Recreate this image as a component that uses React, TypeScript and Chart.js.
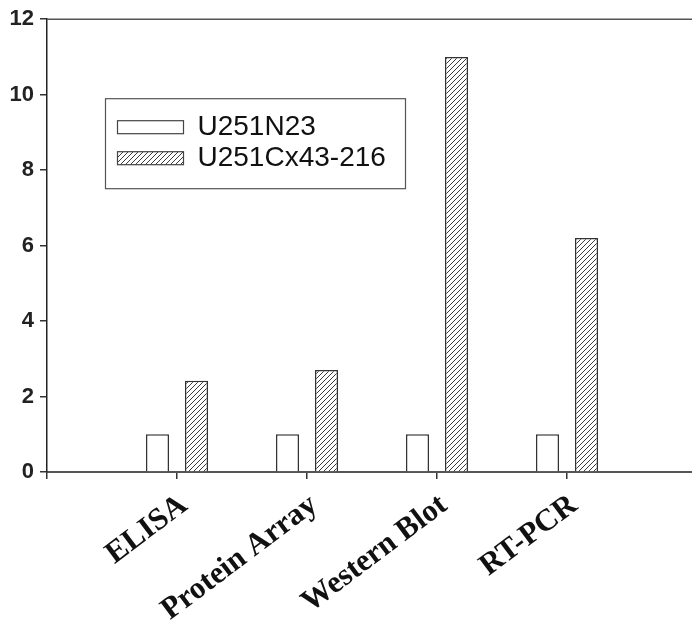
import React, { useEffect, useRef } from 'react';
import { Chart, registerables } from 'chart.js';

Chart.register(...registerables);

const categories = ['ELISA', 'Protein Array', 'Western Blot', 'RT-PCR'];
const seriesNames = ['U251N23', 'U251Cx43-216'];
const u251n23Values = [1, 1, 1, 1];
const u251cx43Values = [2.42, 2.7, 11.0, 6.2];
const yMin = 0;
const yMax = 12;
const yStep = 2;

function makeHatch(): CanvasPattern | string {
  const size = 5;
  const c = document.createElement('canvas');
  c.width = size;
  c.height = size;
  const g = c.getContext('2d');
  if (!g) return '#fff';
  g.fillStyle = '#ffffff';
  g.fillRect(0, 0, size, size);
  g.strokeStyle = '#3a3a3a';
  g.lineWidth = 1;
  g.beginPath();
  g.moveTo(-1, size + 1);
  g.lineTo(size + 1, -1);
  g.moveTo(-1, 1);
  g.lineTo(1, -1);
  g.moveTo(size - 1, size + 1);
  g.lineTo(size + 1, size - 1);
  g.stroke();
  const p = g.createPattern(c, 'repeat');
  return p || '#fff';
}

export default function App() {
  const ref = useRef<HTMLCanvasElement>(null);

  useEffect(() => {
    if (!ref.current) return;
    const hatch = makeHatch();
    const labels = ['', ...categories, ''];
    const d1 = [null, ...u251n23Values, null];
    const d2 = [null, ...u251cx43Values, null];

    const framePlugin = {
      id: 'frameAndLegend',
      afterDraw(chart: any) {
        const { ctx, chartArea } = chart;
        ctx.save();
        // top frame line
        ctx.strokeStyle = '#555';
        ctx.lineWidth = 1.5;
        ctx.beginPath();
        ctx.moveTo(chartArea.left, chartArea.top);
        ctx.lineTo(chartArea.right, chartArea.top);
        ctx.stroke();

        // legend box
        const bx = chartArea.left + 58.5;
        const by = chartArea.top + 79.5;
        const bw = 300;
        const bh = 90;
        ctx.strokeStyle = '#555';
        ctx.lineWidth = 1.2;
        ctx.strokeRect(bx, by, bw, bh);
        const datasets = chart.data.datasets;
        const rows = [22, 53];
        datasets.forEach((ds: any, i: number) => {
          const sx = bx + 12;
          const sy = by + rows[i];
          ctx.fillStyle = ds.backgroundColor;
          ctx.fillRect(sx, sy, 66, 13);
          ctx.strokeStyle = '#444';
          ctx.lineWidth = 1.2;
          ctx.strokeRect(sx, sy, 66, 13);
          ctx.fillStyle = '#111';
          ctx.font = '28px "Liberation Sans", Arial, sans-serif';
          ctx.textBaseline = 'middle';
          ctx.textAlign = 'left';
          ctx.fillText(ds.label, bx + 92, sy + 7);
        });
        ctx.restore();
      },
    };

    const chart = new Chart(ref.current, {
      type: 'bar',
      data: {
        labels,
        datasets: [
          {
            label: seriesNames[0],
            data: d1,
            backgroundColor: '#ffffff',
            borderColor: '#333',
            borderWidth: 1.5,
            categoryPercentage: 0.6,
            barPercentage: 0.59,
          },
          {
            label: seriesNames[1],
            data: d2,
            backgroundColor: hatch as any,
            borderColor: '#333',
            borderWidth: 1.5,
            categoryPercentage: 0.6,
            barPercentage: 0.59,
          },
        ],
      },
      options: {
        animation: false,
        responsive: false,
        maintainAspectRatio: false,
        layout: { padding: { left: 0, top: 16, right: 23, bottom: 0 } },
        plugins: {
          legend: { display: false },
          tooltip: { enabled: false },
        },
        scales: {
          x: {
            type: 'category',
            offset: false,
            grid: {
              offset: false,
              drawOnChartArea: false,
              drawTicks: true,
              tickLength: 7,
              color: '#333',
              lineWidth: 1.5,
            },
            border: { display: true, color: '#555', width: 2 },
            ticks: {
              autoSkip: false,
              minRotation: 37,
              maxRotation: 37,
              padding: 8,
              labelOffset: 7,
              color: '#111',
              font: { family: '"Liberation Serif", "Times New Roman", serif', weight: 'bold', size: 31 },
            },
            afterFit: (s: any) => {
              s.height = 156;
              s.paddingLeft = 0;
              s.paddingRight = 0;
            },
          },
          y: {
            min: yMin,
            max: yMax,
            grid: {
              drawOnChartArea: false,
              drawTicks: true,
              tickLength: 7,
              color: '#333',
              lineWidth: 1.5,
            },
            border: { display: true, color: '#222', width: 1.5 },
            ticks: {
              stepSize: yStep,
              padding: 6,
              color: '#222',
              font: { family: '"Liberation Sans", Arial, sans-serif', weight: 'bold', size: 22 },
            },
            afterFit: (s: any) => {
              s.width = 47;
            },
          },
        },
      },
      plugins: [framePlugin],
    });
    return () => chart.destroy();
  }, []);

  return (
    <div
      style={{
        position: 'absolute',
        left: 0,
        top: 0,
        width: 692,
        height: 628,
        overflow: 'hidden',
        background: '#fff',
      }}
    >
      <canvas ref={ref} width={720} height={628} style={{ display: 'block' }} />
    </div>
  );
}
